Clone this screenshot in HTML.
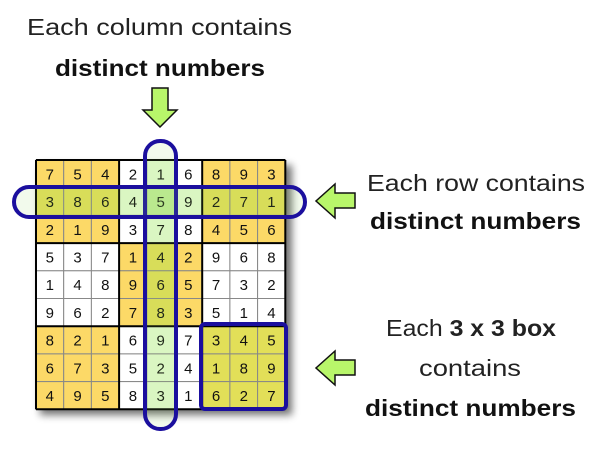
<!DOCTYPE html>
<html><head><meta charset="utf-8"><style>
html,body{margin:0;padding:0;background:#fff;width:600px;height:450px;overflow:hidden}
svg{display:block}
text{font-family:"Liberation Sans",sans-serif}
</style></head><body>
<svg width="600" height="450" viewBox="0 0 600 450" xmlns="http://www.w3.org/2000/svg">
<defs>
<filter id="sh" x="-10%" y="-10%" width="130%" height="130%"><feGaussianBlur stdDeviation="4"/></filter>
</defs>
<text x="27" y="35" font-size="23" textLength="265" lengthAdjust="spacingAndGlyphs" fill="#222">Each column contains</text>
<text x="55" y="76" font-size="23" font-weight="bold" textLength="210" lengthAdjust="spacingAndGlyphs" fill="#111">distinct numbers</text>
<text x="367" y="191" font-size="23" textLength="218" lengthAdjust="spacingAndGlyphs" fill="#222">Each row contains</text>
<text x="370" y="229" font-size="23" font-weight="bold" textLength="211" lengthAdjust="spacingAndGlyphs" fill="#111">distinct numbers</text>
<text x="386" y="336" font-size="23" textLength="170" lengthAdjust="spacingAndGlyphs" fill="#222">Each <tspan font-weight="bold">3 x 3 box</tspan></text>
<text x="419" y="376" font-size="23" textLength="102" lengthAdjust="spacingAndGlyphs" fill="#222">contains</text>
<text x="365" y="416" font-size="23" font-weight="bold" textLength="211" lengthAdjust="spacingAndGlyphs" fill="#111">distinct numbers</text>
<polygon points="152,88 168,88 168,110 177,110 160,127 143,110 152,110" fill="#b8f66a" stroke="#111" stroke-width="1.5"/>
<polygon points="355,193 335,193 335,184 316,201 335,218 335,208 355,208" fill="#b8f66a" stroke="#111" stroke-width="1.5"/>
<polygon points="355,360 335,360 335,351 316,368 335,385 335,375 355,375" fill="#b8f66a" stroke="#111" stroke-width="1.5"/>
<rect x="40" y="165" width="252" height="250" fill="#000" opacity="0.55" filter="url(#sh)"/>
<g id="grid" font-size="15" text-anchor="middle"></g>
<rect x="145" y="141" width="31" height="288" rx="15" fill="rgba(150,215,100,0.12)" stroke="#1b0f9e" stroke-width="4"/>
<rect x="14" y="187" width="291" height="30" rx="15" fill="rgba(150,215,100,0.12)" stroke="#1b0f9e" stroke-width="4"/>
<rect x="201" y="324" width="85" height="85" rx="4" fill="none" stroke="#1b0f9e" stroke-width="4"/>
</svg>
<script>
const d=["754216893","386459271","219378456","537142968","148965732","962783514","821697345","673524189","495831627"];
const g=document.getElementById('grid');const x0=36,y0=160,c=27.7;let s='';
for(let r=0;r<9;r++)for(let k=0;k<9;k++){
 const br=Math.floor(r/3),bc=Math.floor(k/3);
 const yel=(br+bc)%2==0;let col=yel?'#fcd967':'#ffffff';
 if(br==2&&bc==2)col='#e2df58';
 const hr=r==1,hc=k==4;
 if(hr&&hc)col='#c7f09c';else if(hr||hc)col=yel?'#e2df58':'#e4fbd0';
 s+=`<rect x="${x0+k*c}" y="${y0+r*c}" width="${c}" height="${c}" fill="${col}" stroke="#888" stroke-width="1"/>`;
 s+=`<text x="${x0+k*c+c/2}" y="${y0+r*c+c/2+5.5}" fill="#111">${d[r][k]}</text>`;
}
for(let i=0;i<=3;i++){s+=`<line x1="${x0+i*3*c}" y1="${y0}" x2="${x0+i*3*c}" y2="${y0+9*c}" stroke="#000" stroke-width="2"/>`;
s+=`<line x1="${x0}" y1="${y0+i*3*c}" x2="${x0+9*c}" y2="${y0+i*3*c}" stroke="#000" stroke-width="2"/>`;}
g.innerHTML=s;
</script>
</body></html>
